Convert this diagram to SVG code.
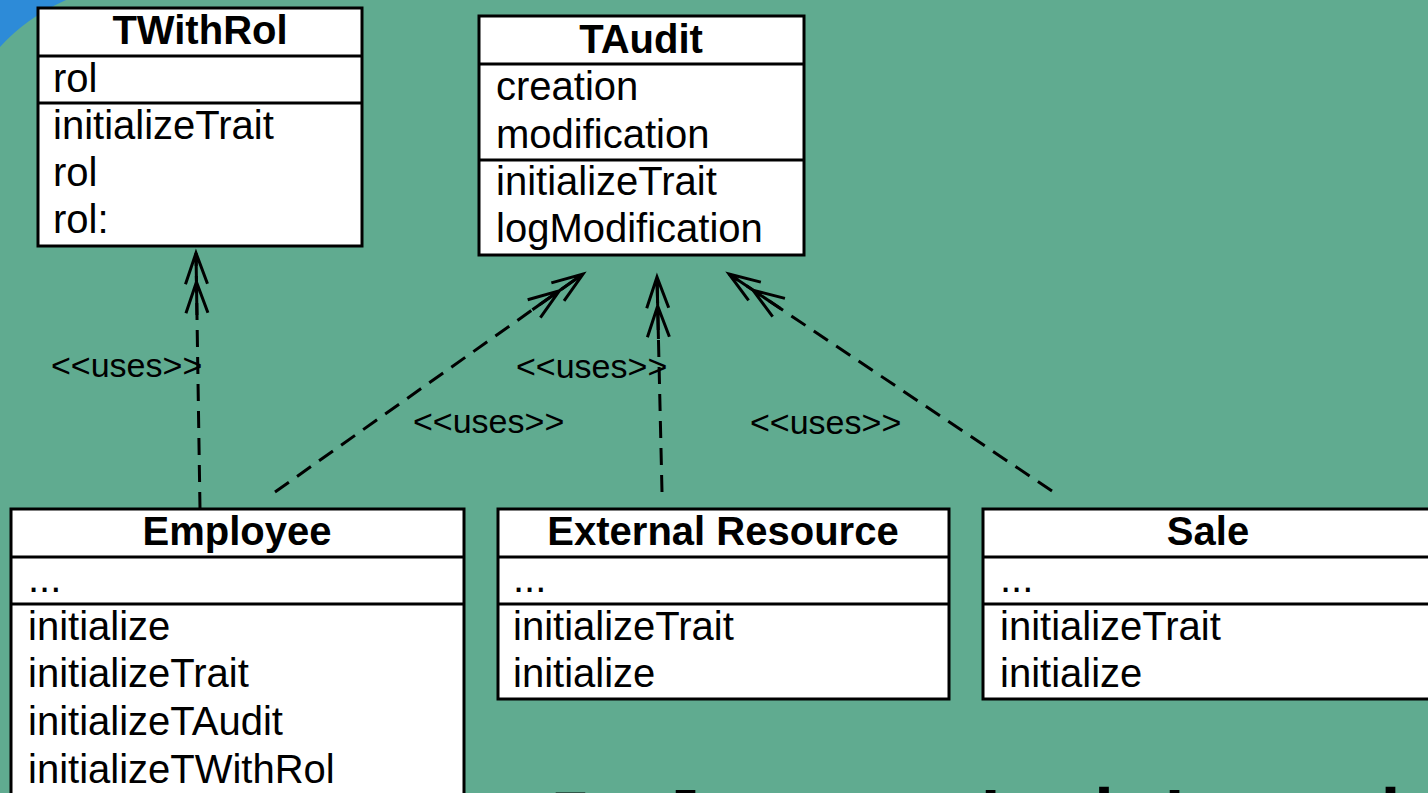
<svg xmlns="http://www.w3.org/2000/svg" width="1428" height="793" viewBox="0 0 1428 793">
<style>
.box{fill:#fff;stroke:#000;stroke-width:3}
.dv{stroke:#000;stroke-width:3}
.t{font-family:"Liberation Sans",Arial,sans-serif;font-size:40px;fill:#000}
.h{font-weight:bold;text-anchor:middle}
.lbl{font-family:"Liberation Sans",Arial,sans-serif;font-size:34px;fill:#000}
.dep{fill:none;stroke:#000;stroke-width:3;stroke-dasharray:17 10;marker-end:url(#dbl)}
</style>
<defs>
<marker id="dbl" markerUnits="userSpaceOnUse" markerWidth="80" markerHeight="40" viewBox="-70 -20 80 40" refX="0" refY="0" orient="auto" overflow="visible">
<path d="M-62,0 L0,0 M-31,-11 L0,0 L-31,11 M-60,-11 L-29,0 L-60,11" fill="none" stroke="#000" stroke-width="3"/>
</marker>
</defs>
<rect width="1428" height="793" fill="#60ab90"/>
<path d="M0,0 L0,47 Q26,18 66,0 Z" fill="#2d8bd8"/>

<g id="TWithRol">
<rect class="box" x="38" y="8" width="324" height="238"/>
<line class="dv" x1="38" y1="56" x2="362" y2="56"/>
<line class="dv" x1="38" y1="103" x2="362" y2="103"/>
<text class="t h" x="200" y="44">TWithRol</text>
<text class="t" x="53" y="92">rol</text>
<text class="t" x="53" y="139">initializeTrait</text>
<text class="t" x="53" y="186">rol</text>
<text class="t" x="53" y="233">rol:</text>
</g>

<g id="TAudit">
<rect class="box" x="479" y="16" width="325" height="239"/>
<line class="dv" x1="479" y1="64" x2="804" y2="64"/>
<line class="dv" x1="479" y1="160" x2="804" y2="160"/>
<text class="t h" x="641" y="53">TAudit</text>
<text class="t" x="496" y="100">creation</text>
<text class="t" x="496" y="148">modification</text>
<text class="t" x="496" y="195">initializeTrait</text>
<text class="t" x="496" y="242">logModification</text>
</g>

<g id="Employee">
<rect class="box" x="11" y="509" width="453" height="300"/>
<line class="dv" x1="11" y1="557" x2="464" y2="557"/>
<line class="dv" x1="11" y1="604" x2="464" y2="604"/>
<text class="t h" x="237" y="545">Employee</text>
<text class="t" x="28" y="592">...</text>
<text class="t" x="28" y="640">initialize</text>
<text class="t" x="28" y="687">initializeTrait</text>
<text class="t" x="28" y="735">initializeTAudit</text>
<text class="t" x="28" y="783">initializeTWithRol</text>
</g>

<g id="ExternalResource">
<rect class="box" x="498" y="509" width="451" height="190"/>
<line class="dv" x1="498" y1="557" x2="949" y2="557"/>
<line class="dv" x1="498" y1="604" x2="949" y2="604"/>
<text class="t h" x="723" y="545">External Resource</text>
<text class="t" x="513" y="592">...</text>
<text class="t" x="513" y="640">initializeTrait</text>
<text class="t" x="513" y="687">initialize</text>
</g>

<g id="Sale">
<rect class="box" x="983" y="509" width="460" height="190"/>
<line class="dv" x1="983" y1="557" x2="1443" y2="557"/>
<line class="dv" x1="983" y1="604" x2="1443" y2="604"/>
<text class="t h" x="1208" y="545">Sale</text>
<text class="t" x="1000" y="592">...</text>
<text class="t" x="1000" y="640">initializeTrait</text>
<text class="t" x="1000" y="687">initialize</text>
</g>

<g id="connectors">
<path class="dep" d="M200,509 L196,253"/>
<path class="dep" d="M275,492 L583,274"/>
<path class="dep" d="M662,492 L657,277"/>
<path class="dep" d="M1052,491 L729,274"/>
<text class="lbl" x="51" y="377">&lt;&lt;uses&gt;&gt;</text>
<text class="lbl" x="413" y="433">&lt;&lt;uses&gt;&gt;</text>
<text class="lbl" x="516" y="378">&lt;&lt;uses&gt;&gt;</text>
<text class="lbl" x="750" y="434">&lt;&lt;uses&gt;&gt;</text>
</g>

<text x="550" y="842" font-family="DejaVu Sans Mono,monospace" font-weight="bold" font-size="68" fill="#000">Implemented with traits</text>
</svg>
